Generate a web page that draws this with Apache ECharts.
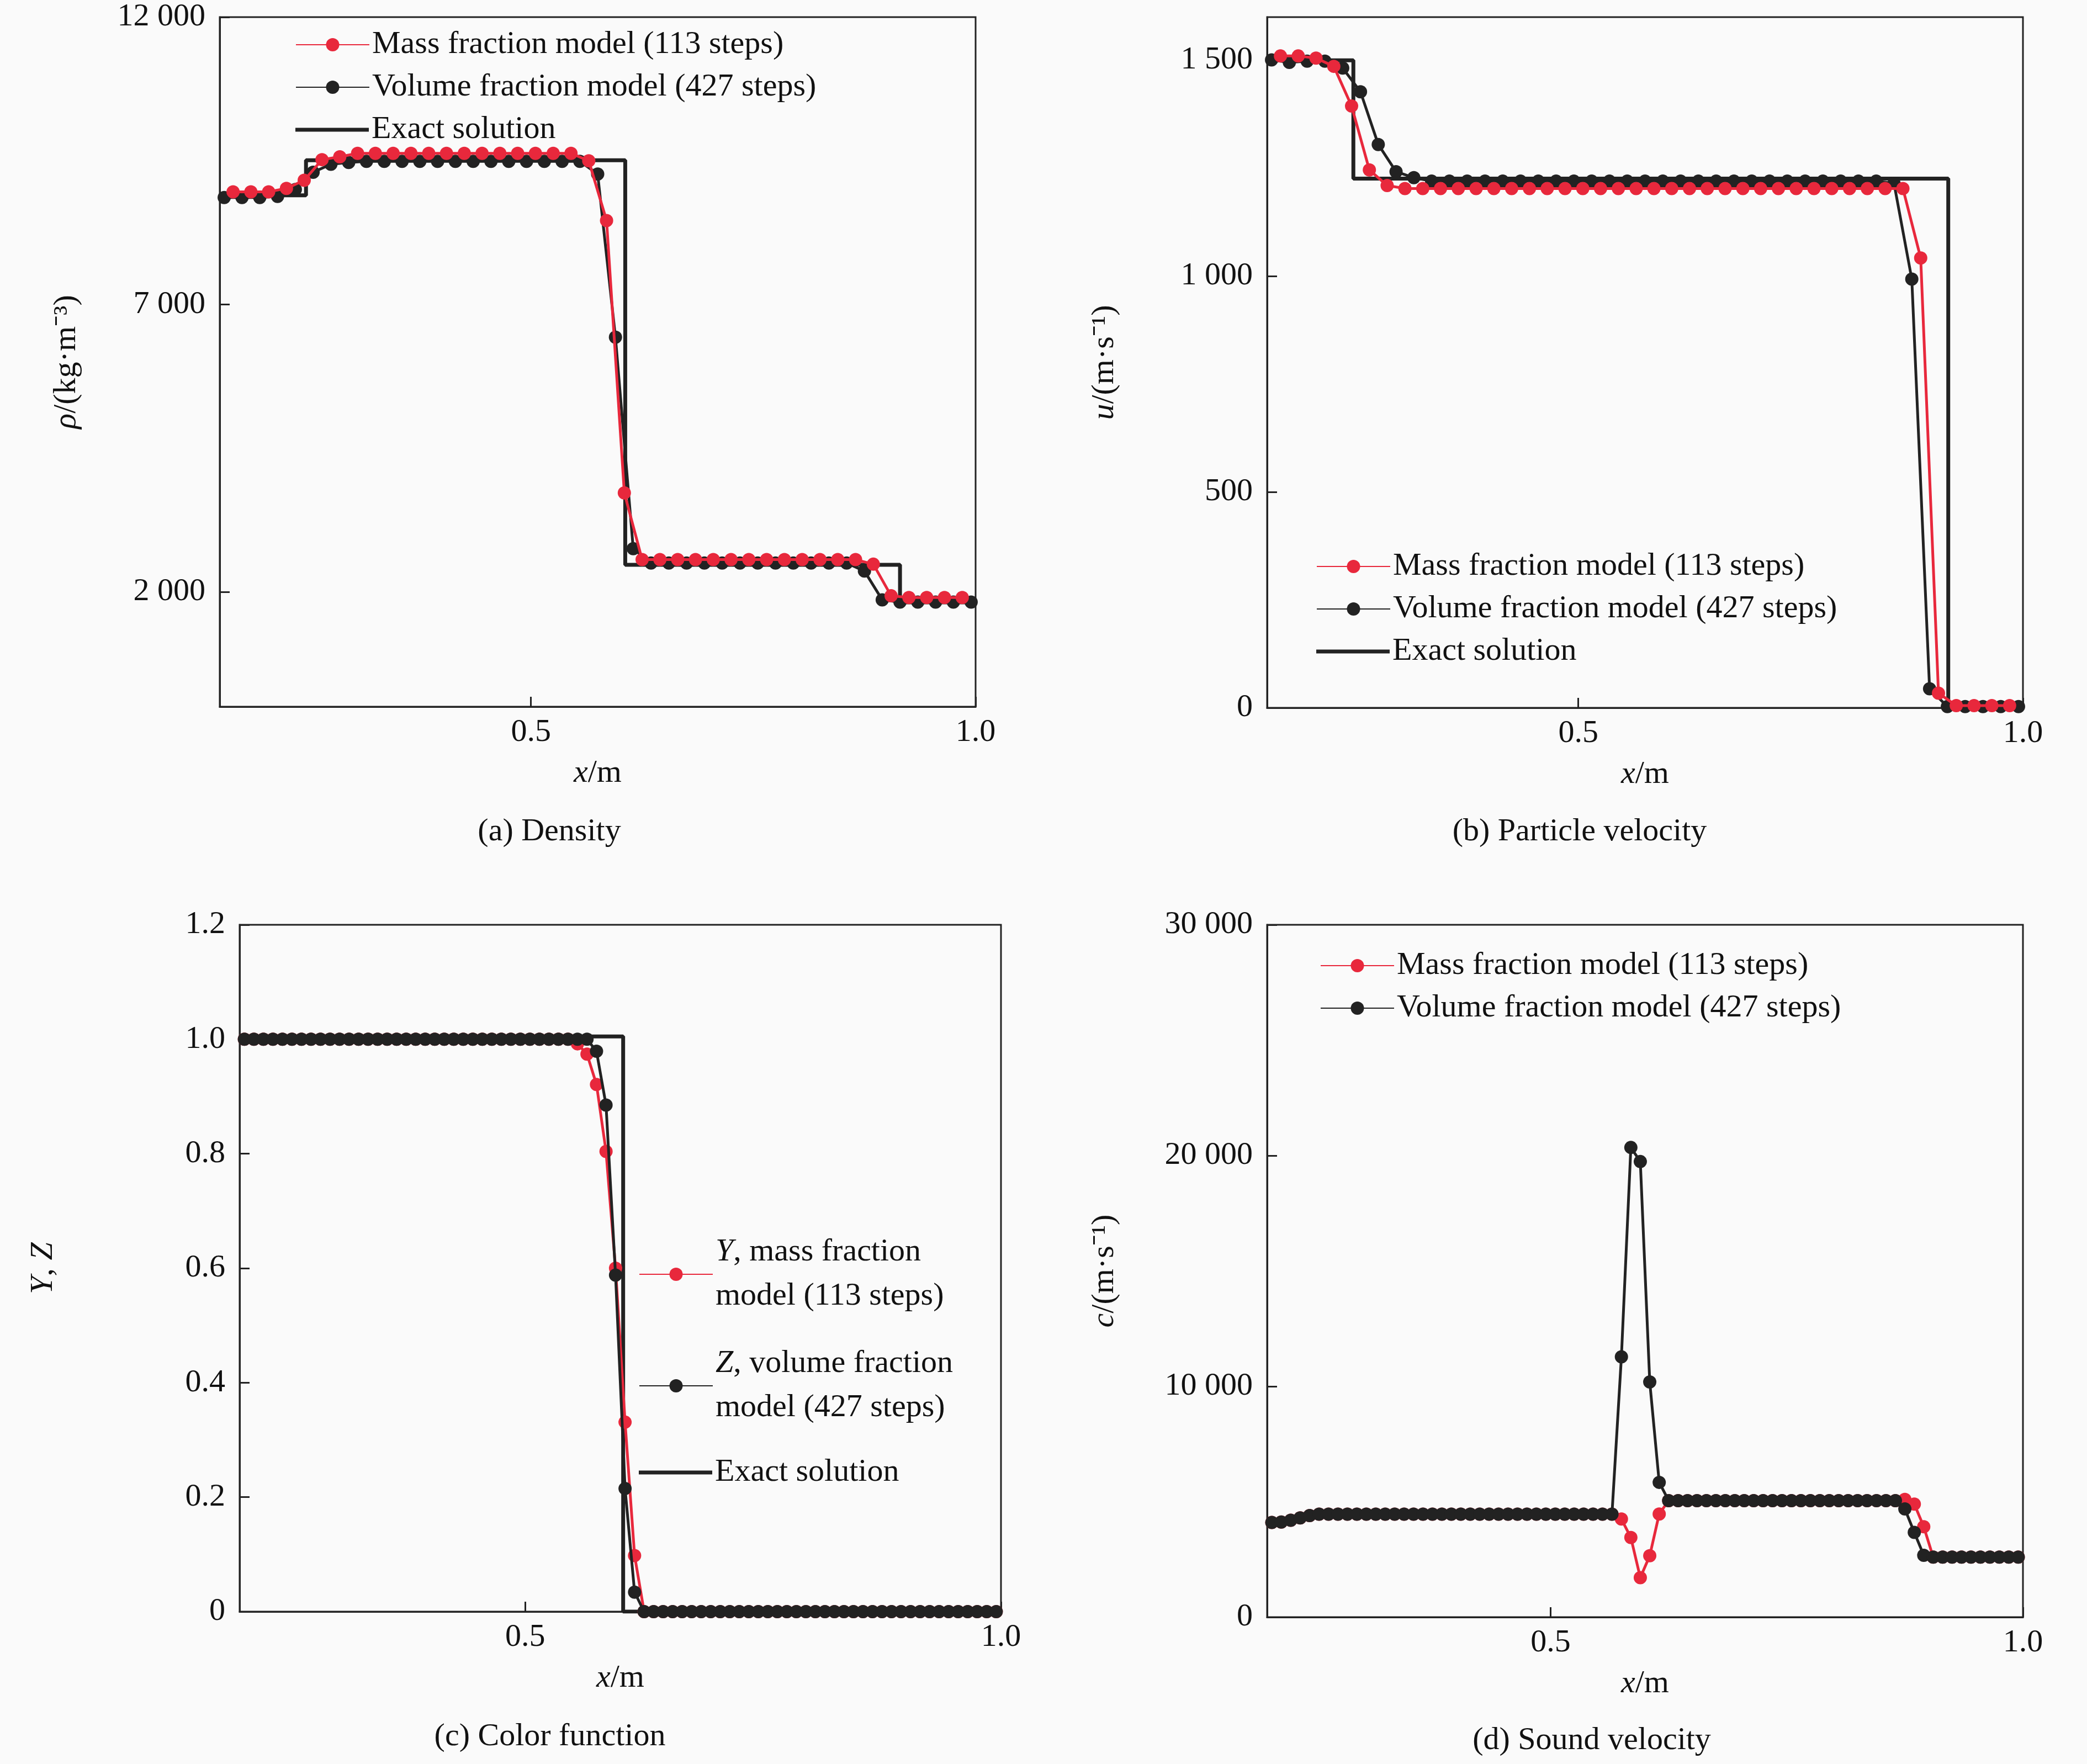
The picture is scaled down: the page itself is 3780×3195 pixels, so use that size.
<!DOCTYPE html>
<html><head><meta charset="utf-8">
<script src="https://cdn.jsdelivr.net/npm/echarts@6/dist/echarts.min.js"></script>
<style>html,body{margin:0;padding:0;background:#fafafa}#c{width:3780px;height:3195px}</style>
</head><body><div id="c"></div>
<script>
// ---- Panel (a) density ----
const xaBlack=[0.155,0.175,0.195,0.215,0.235,0.255,0.275,0.295,0.315,0.335,0.355,0.375,0.395,0.415,0.435,0.455,0.475,0.495,0.515,0.535,0.555,0.575,0.595,0.615,0.635,0.655,0.675,0.695,0.715,0.735,0.755,0.775,0.795,0.815,0.835,0.855,0.875,0.895,0.915,0.935,0.955,0.975,0.995];
const rhoVolume=[8860,8860,8860,8880,9000,9300,9440,9470,9490,9490,9490,9490,9490,9490,9490,9490,9490,9490,9490,9490,9490,9270,6430,2750,2500,2500,2500,2500,2500,2500,2500,2500,2500,2500,2500,2500,2360,1860,1820,1820,1820,1820,1820];
const xaRed=[0.165,0.185,0.205,0.225,0.245,0.265,0.285,0.305,0.325,0.345,0.365,0.385,0.405,0.425,0.445,0.465,0.485,0.505,0.525,0.545,0.565,0.585,0.605,0.625,0.645,0.665,0.685,0.705,0.725,0.745,0.765,0.785,0.805,0.825,0.845,0.865,0.885,0.905,0.925,0.945,0.965,0.985];
const rhoMass=[8960,8960,8960,9020,9160,9520,9570,9630,9630,9630,9630,9630,9630,9630,9630,9630,9630,9630,9630,9630,9500,8460,3720,2560,2560,2560,2560,2560,2560,2560,2560,2560,2560,2560,2560,2560,2480,1930,1900,1900,1900,1900];
const rhoExact=[[0.15,8900],[0.247,8900],[0.247,9510],[0.606,9510],[0.606,2470],[0.915,2470],[0.915,1817],[1.0,1817]];
// ---- Panel (b) velocity ----
const uVolume=[1501,1495,1498,1498,1482,1427,1305,1242,1228,1220,1220,1220,1220,1220,1220,1220,1220,1220,1220,1220,1220,1220,1220,1220,1220,1220,1220,1220,1220,1220,1220,1220,1220,1220,1220,1215,993,44,3,3,3,3,3];
const uMass=[1510,1510,1505,1486,1394,1246,1210,1203,1203,1203,1203,1203,1203,1203,1203,1203,1203,1203,1203,1203,1203,1203,1203,1203,1203,1203,1203,1203,1203,1203,1203,1203,1203,1203,1203,1203,1042,34,5,5,5,5];
const uExact=[[0.15,1500],[0.247,1500],[0.247,1226],[0.916,1226],[0.916,0],[1.0,0]];
// ---- Panels (c),(d) grid ----
const xc=[0.205,0.215,0.225,0.235,0.245,0.255,0.265,0.275,0.285,0.295,0.305,0.315,0.325,0.335,0.345,0.355,0.365,0.375,0.385,0.395,0.405,0.415,0.425,0.435,0.445,0.455,0.465,0.475,0.485,0.495,0.505,0.515,0.525,0.535,0.545,0.555,0.565,0.575,0.585,0.595,0.605,0.615,0.625,0.635,0.645,0.655,0.665,0.675,0.685,0.695,0.705,0.715,0.725,0.735,0.745,0.755,0.765,0.775,0.785,0.795,0.805,0.815,0.825,0.835,0.845,0.855,0.865,0.875,0.885,0.895,0.905,0.915,0.925,0.935,0.945,0.955,0.965,0.975,0.985,0.995];
const yMass=[1,1,1,1,1,1,1,1,1,1,1,1,1,1,1,1,1,1,1,1,1,1,1,1,1,1,1,1,1,1,1,1,1,1,1,0.992,0.974,0.921,0.804,0.600,0.331,0.098,0,0,0,0,0,0,0,0,0,0,0,0,0,0,0,0,0,0,0,0,0,0,0,0,0,0,0,0,0,0,0,0,0,0,0,0,0,0];
const zVolume=[1,1,1,1,1,1,1,1,1,1,1,1,1,1,1,1,1,1,1,1,1,1,1,1,1,1,1,1,1,1,1,1,1,1,1,1,1,0.979,0.885,0.588,0.215,0.034,0,0,0,0,0,0,0,0,0,0,0,0,0,0,0,0,0,0,0,0,0,0,0,0,0,0,0,0,0,0,0,0,0,0,0,0,0,0];
const yzExact=[[0.2,1.005],[0.603,1.005],[0.603,0],[1.0,0]];
const cVolume=[4100,4120,4200,4300,4400,4460,4460,4460,4460,4460,4460,4460,4460,4460,4460,4460,4460,4460,4460,4460,4460,4460,4460,4460,4460,4460,4460,4460,4460,4460,4460,4460,4460,4460,4460,4460,4460,11280,20350,19740,10190,5840,5050,5050,5050,5050,5050,5050,5050,5050,5050,5050,5050,5050,5050,5050,5050,5050,5050,5050,5050,5050,5050,5050,5050,5050,5050,4690,3670,2680,2600,2600,2600,2600,2600,2600,2600,2600,2600,2600];
const cMass=[4100,4120,4200,4300,4400,4460,4460,4460,4460,4460,4460,4460,4460,4460,4460,4460,4460,4460,4460,4460,4460,4460,4460,4460,4460,4460,4460,4460,4460,4460,4460,4460,4460,4460,4460,4460,4460,4250,3450,1710,2660,4470,5050,5050,5050,5050,5050,5050,5050,5050,5050,5050,5050,5050,5050,5050,5050,5050,5050,5050,5050,5050,5050,5050,5050,5050,5050,5100,4900,3920,2600,2600,2600,2600,2600,2600,2600,2600,2600,2600];
// ---- ticks ----
const xTicksAB=[0.5,1.0];
const yTicksA=[2000,7000,12000], yTicksB=[0,500,1000,1500], yTicksC=[0,0.2,0.4,0.6,0.8,1.0,1.2], yTicksD=[0,10000,20000,30000];

const FONT="'Liberation Serif', 'Times New Roman', serif", FS=58, RED='#e8283c', BLK='#222222';
const rich={i:{fontStyle:'italic',fontFamily:FONT,fontSize:FS,color:'#111'},n:{fontFamily:FONT,fontSize:FS,color:'#111'}};
const thin=v=>{const s=String(Math.round(v));return s.length>3?s.slice(0,-3)+' '+s.slice(-3):s;};
const zip=(xs,ys)=>xs.map((x,i)=>[x,ys[i]]);
const grids=[
 {left:398,top:31,width:1369,height:1249},
 {left:2295,top:31,width:1369,height:1251},
 {left:434,top:1675,width:1379,height:1244},
 {left:2295,top:1675,width:1369,height:1254}
].map(g=>Object.assign(g,{show:true,borderColor:'#222',borderWidth:3,backgroundColor:'transparent'}));
function xAx(i,min){return {type:'value',gridIndex:i,min:min,max:1.0,
 axisLine:{show:true,lineStyle:{color:'#222',width:3}},
 axisTick:{show:true,inside:true,length:18,lineStyle:{width:3,color:'#222'},customValues:xTicksAB},
 axisLabel:{customValues:xTicksAB,formatter:v=>v.toFixed(1),fontFamily:FONT,fontSize:FS,color:'#111',margin:18},
 splitLine:{show:false},name:'{i|x}{n|/m}',nameLocation:'middle',nameGap:92,nameTextStyle:{rich:rich}};}
function yAx(i,min,max,ticks,fmt,name,gap){return {type:'value',gridIndex:i,min:min,max:max,
 axisLine:{show:true,lineStyle:{color:'#222',width:3}},
 axisTick:{show:true,inside:true,length:18,lineStyle:{width:3,color:'#222'},customValues:ticks},
 axisLabel:{customValues:ticks,formatter:fmt,fontFamily:FONT,fontSize:FS,color:'#111',margin:26},
 splitLine:{show:false},name:name,nameLocation:'middle',nameGap:gap,nameRotate:90,nameTextStyle:{rich:rich}};}
function pts(name,data,color,xi,z){return {name:name,type:'line',xAxisIndex:xi,yAxisIndex:xi,data:data,symbol:'circle',symbolSize:24,
 lineStyle:{color:color,width:5},itemStyle:{color:color},z:z,animation:false};}
function exact(name,data,xi){return {name:name,type:'line',xAxisIndex:xi,yAxisIndex:xi,data:data,symbol:'none',showSymbol:false,lineStyle:{color:BLK,width:7},itemStyle:{color:BLK},z:1,animation:false};}
const M='Mass fraction model (113 steps)', V='Volume fraction model (427 steps)', E='Exact solution';
const MY='Y, mass fraction model (113 steps)', VZ='Z, volume fraction model (427 steps)', E2='Exact solution (c)';
function leg(name,left,center,fmt,h,isExact){
 const o={data:[name],left:left,top:center-(h||34),orient:'vertical',itemWidth:133,itemHeight:30,itemGap:0,
 selectedMode:false,formatter:fmt||(n=>n),textStyle:{fontFamily:FONT,fontSize:FS,color:'#111',rich:rich,lineHeight:80}};
 if(isExact){o.data=[{name:name,icon:'rect',itemStyle:{color:BLK}}];o.itemHeight=7;o.top=center-(h||34);o.itemStyle={color:BLK};}
 return o;}
const opt={backgroundColor:'#fafafa',animation:false,grid:grids,
 xAxis:[xAx(0,0.15),xAx(1,0.15),xAx(2,0.2),xAx(3,0.2)],
 yAxis:[yAx(0,0,12000,yTicksA,thin,'{i|ρ}{n|/(kg·m⁻³)}',248),
        yAx(1,0,1600,yTicksB,thin,'{i|u}{n|/(m·s⁻¹)}',265),
        yAx(2,0,1.2,yTicksC,v=>v===0?'0':v.toFixed(1),'{i|Y}{n|, }{i|Z}',326),
        yAx(3,0,30000,yTicksD,thin,'{i|c}{n|/(m·s⁻¹)}',265)],
 legend:[leg(M,530,70),leg(V,530,147),leg(E,530,224,null,null,true),
         leg(M,2379,1015),leg(V,2379,1092),leg(E,2379,1169,null,null,true),
         leg(MY,1152,2295,()=>'{i|Y}, mass fraction\nmodel (113 steps)',72),
         leg(VZ,1152,2497,()=>'{i|Z}, volume fraction\nmodel (427 steps)',72),
         leg(E2,1152,2656,()=>'Exact solution',null,true),
         leg(M,2386,1738),leg(V,2386,1815)],
 series:[exact(E,rhoExact,0),pts(V,zip(xaBlack,rhoVolume),BLK,0,2),pts(M,zip(xaRed,rhoMass),RED,0,3),
         exact(E,uExact,1),pts(V,zip(xaBlack,uVolume),BLK,1,2),pts(M,zip(xaRed,uMass),RED,1,3),
         exact(E2,yzExact,2),pts(MY,zip(xc,yMass),RED,2,2),pts(VZ,zip(xc,zVolume),BLK,2,3),
         pts(M,zip(xc,cMass),RED,3,2),pts(V,zip(xc,cVolume),BLK,3,3)],
 graphic:[['(a) Density',995,1507],['(b) Particle velocity',2861,1507],['(c) Color function',996,3146],['(d) Sound velocity',2883,3153]]
  .map(t=>({type:'text',x:t[1],y:t[2],style:{text:t[0],fontFamily:FONT,fontSize:FS,fill:'#111',textAlign:'center',textVerticalAlign:'middle'}}))
};
echarts.init(document.getElementById('c')).setOption(opt);
</script></body></html>
